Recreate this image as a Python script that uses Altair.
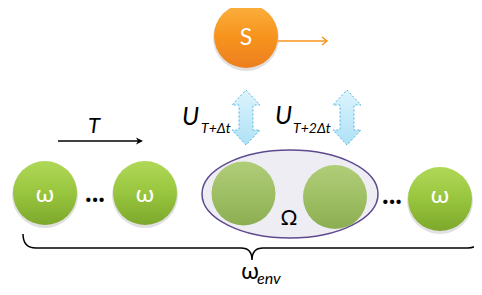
import altair as alt
import pandas as pd

# ---------------- data (reference pixel positions) ----------------
W, H = 466, 279
X0, Y0 = 8, 8

green_x = [45, 145, 440]
green_y = [193, 193, 199]
inner_x = [243.5, 335]
inner_y = [193.5, 197]
s_x, s_y = [246], [36]
ellipse_x, ellipse_y = [290], [194]
dbl_x = [246, 347]
dbl_y = [117.5, 117.5]
brace_x, brace_y = [252], [248]

line_x = [58, 278]
line_x2 = [141, 326]
line_y = [141, 41]
line_color = ["#000000", "#F7941D"]

white_text = ["S", "ω", "ω", "ω"]
white_x = [246, 45, 145, 440]
white_y = [45, 202, 202, 203]
white_size = [23, 24, 24, 24]

italic_text = ["T", "U", "T+Δt", "U", "T+2Δt", "env"]
italic_x = [88, 182, 201, 275, 293, 257]
italic_y = [133, 125, 133, 124, 133, 284]
italic_size = [22, 25, 14, 25, 14, 16]

plain_text = ["Ω", "ω"]
plain_x = [289, 250]
plain_y = [225, 279]
plain_size = [21, 23]

dots_text = ["...", "..."]
dots_x = [95, 392]
dots_y = [202, 204]

FONT = "Lato"

xs = alt.Scale(domain=[X0, X0 + W], range=[0, W])
ys = alt.Scale(domain=[Y0, Y0 + H], range=[0, H])


def base(df):
    return alt.Chart(df).encode(
        x=alt.X("x:Q", scale=xs, axis=None),
        y=alt.Y("y:Q", scale=ys, axis=None),
    )


def grad(stops):
    return alt.Gradient(
        gradient="linear",
        stops=[alt.GradientStop(color=c, offset=o) for o, c in stops],
        x1=0, x2=0, y1=0, y2=1,
    )


ELLIPSE = ("M -88 0 C -88 -24.3 -48.6 -44 0 -44 C 48.6 -44 88 -24.3 88 0 "
           "C 88 24.3 48.6 44 0 44 C -48.6 44 -88 24.3 -88 0 Z")
DBL = ("M 0 -27.5 L 14 -12.5 L 7 -12.5 L 7 12.5 L 14 12.5 L 0 27.5 "
       "L -14 12.5 L -7 12.5 L -7 -12.5 L -14 -12.5 Z")
BRACE = ("M -229 -14 Q -229 0 -216 0 L -11 0 Q 0 0 0 12 Q 0 0 11 0 "
         "L 216 0 Q 229 0 229 -15")
HEAD_BLACK = "M -7 -3.5 L 0 0 L -7 3.5 L -5 0 Z"
HEAD_ORANGE = "M -5 -4 L 0 0 L -5 4"

circle_size = 64 * 64

df_green = pd.DataFrame({"x": green_x, "y": green_y})
df_inner = pd.DataFrame({"x": inner_x, "y": inner_y})
df_s = pd.DataFrame({"x": s_x, "y": s_y})
df_shadow = pd.DataFrame({"x": green_x + s_x,
                          "y": [v + 2 for v in green_y + s_y]})
df_ell = pd.DataFrame({"x": ellipse_x, "y": ellipse_y})
df_dbl = pd.DataFrame({"x": dbl_x, "y": dbl_y})
df_brace = pd.DataFrame({"x": brace_x, "y": brace_y})
df_lines = pd.DataFrame({"x": line_x, "x2": line_x2, "y": line_y, "c": line_color})

shadow = base(df_shadow).mark_circle(size=66 * 66, color="#000000", opacity=0.12)

ellipse = base(df_ell).mark_point(
    shape=ELLIPSE, size=4, filled=True, fill="#EFEDF4", stroke="#5E4A8E",
    strokeWidth=1.5, opacity=1, fillOpacity=1,
)

green = base(df_green).mark_circle(
    size=circle_size, opacity=1,
    fill=grad([(0, "#B0D858"), (0.5, "#98C53E"), (1, "#7DA82C")]),
)
inner = base(df_inner).mark_circle(
    size=circle_size, opacity=1,
    fill=grad([(0, "#B0CD78"), (0.5, "#9FBF65"), (1, "#8CAE52")]),
)
s_circ = base(df_s).mark_circle(
    size=circle_size, opacity=1,
    fill=grad([(0, "#FBB040"), (0.5, "#F7941D"), (1, "#EC7F1F")]),
)

dbl = base(df_dbl).mark_point(
    shape=DBL, size=4, filled=True, opacity=1,
    fill=grad([(0, "#DDF4FD"), (1, "#AEE1F6")]),
    stroke="#55B5DE", strokeWidth=1, strokeDash=[2, 2],
)

brace = base(df_brace).mark_point(
    shape=BRACE, size=4, filled=False, stroke="#000000", strokeWidth=1.5,
    opacity=1,
)

lines = base(df_lines).mark_rule(strokeWidth=1.3).encode(
    x2="x2:Q", color=alt.Color("c:N", scale=None)
)
head_black = base(pd.DataFrame({"x": [line_x2[0] + 2], "y": [line_y[0]]})).mark_point(
    shape=HEAD_BLACK, size=4, filled=True, color="#000000", opacity=1,
)
head_orange = base(pd.DataFrame({"x": [line_x2[1] + 1], "y": [line_y[1]]})).mark_point(
    shape=HEAD_ORANGE, size=4, filled=False, stroke="#F7941D", strokeWidth=1.5,
    opacity=1,
)

t_white = base(pd.DataFrame({"x": white_x, "y": white_y, "t": white_text,
                             "s": white_size})).mark_text(
    font=FONT, baseline="alphabetic", align="center", color="white",
).encode(text="t:N", size=alt.Size("s:Q", scale=None))

t_italic = base(pd.DataFrame({"x": italic_x, "y": italic_y, "t": italic_text,
                              "s": italic_size})).mark_text(
    font=FONT, baseline="alphabetic", align="left", color="black",
    fontStyle="italic",
).encode(text="t:N", size=alt.Size("s:Q", scale=None))

t_plain = base(pd.DataFrame({"x": plain_x, "y": plain_y, "t": plain_text,
                             "s": plain_size})).mark_text(
    font=FONT, baseline="alphabetic", align="center", color="black",
).encode(text="t:N", size=alt.Size("s:Q", scale=None))

t_dots = base(pd.DataFrame({"x": dots_x, "y": dots_y, "t": dots_text})).mark_text(
    font=FONT, baseline="alphabetic", align="center", color="black",
    fontWeight="bold", fontSize=28,
).encode(text="t:N")

chart = alt.layer(
    shadow, ellipse, green, inner, s_circ, dbl, brace, lines,
    head_black, head_orange, t_white, t_italic, t_plain, t_dots,
).properties(
    width=W, height=H, padding=0, autosize="none", background="white",
).configure_view(stroke=None)

chart.save("out.html", embed_options={"renderer": "svg", "actions": False})
